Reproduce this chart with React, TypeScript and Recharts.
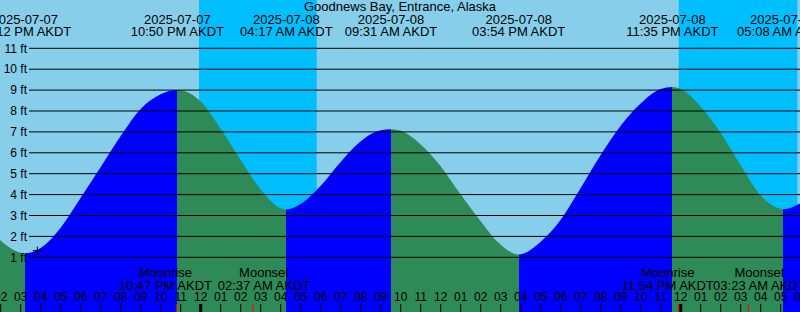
import React from 'react';
import { ComposedChart, Area, XAxis, YAxis, ReferenceArea, ReferenceLine, ReferenceDot } from 'recharts';

// hours counted from 2025-07-07 00:00 AKDT
const hours = [
  13.965, 14, 15, 15.2, 16, 17, 18, 19, 20, 21, 22, 22.833, 23, 24, 25, 26, 27, 28, 28.283,
  29, 30, 31, 32, 33, 33.517, 34, 35, 36, 37, 38, 39, 39.9, 40, 41, 42, 43, 44, 45, 46, 47,
  47.583, 48, 49, 50, 51, 52, 53, 53.133, 53.965,
];
const heights = [
  1.83, 1.8, 1.22, 1.19, 1.45, 2.42, 3.85, 5.32, 6.8, 8.1, 8.8, 9.0, 8.99, 8.45, 7.15, 5.65, 4.25, 3.35, 3.29,
  3.55, 4.42, 5.56, 6.55, 7.08, 7.13, 7.05, 6.4, 5.36, 4.0, 2.73, 1.6, 1.14, 1.15, 1.75, 2.8, 4.32, 5.9, 7.3, 8.36, 9.05,
  9.15, 9.05, 8.2, 6.95, 5.4, 3.96, 3.32, 3.3, 3.57,
];

const extremeTimes = [15.2, 22.833, 28.283, 33.517, 39.9, 47.583, 53.133];
const extremeKinds = ['low', 'high', 'low', 'high', 'low', 'high', 'low'];
const extremeDates = ['2025-07-07', '2025-07-07', '2025-07-08', '2025-07-08', '2025-07-08', '2025-07-08', '2025-07-09'];
const extremeLabels = [
  '03:12 PM AKDT', '10:50 PM AKDT', '04:17 AM AKDT', '09:31 AM AKDT', '03:54 PM AKDT', '11:35 PM AKDT', '05:08 AM AKDT',
];

const sunsets = [23.917, 47.9];
const sunrises = [29.8, 53.833];

const moonTimes = [22.783, 26.617, 47.9, 51.383];
const moonEvents = ['Moonrise', 'Moonset', 'Moonrise', 'Moonset'];
const moonLabels = ['10:47 PM AKDT', '02:37 AM AKDT', '11:54 PM AKDT', '03:23 AM AKDT'];

const levels = [1, 2, 3, 4, 5, 6, 7, 8, 9, 10, 11];
const hourTicks = [
  14, 15, 16, 17, 18, 19, 20, 21, 22, 23, 24, 25, 26, 27, 28, 29, 30, 31, 32, 33, 34,
  35, 36, 37, 38, 39, 40, 41, 42, 43, 44, 45, 46, 47, 48, 49, 50, 51, 52, 53, 54,
];

const title = 'Goodnews Bay, Entrance, Alaska';
const markTime = 15.83;
const markLevel = 1.32;
const gridStartHour = 15.415;

const RISE = '#0000ff';
const FALL = '#2e8b57';
const DAY = '#87ceeb';
const NIGHT = '#00bfff';
const FONT = '"Liberation Sans", Arial, sans-serif';

const data = hours.map((t, i) => ({ t, h: heights[i] }));
const tMin = hours[0];
const tMax = hours[hours.length - 1];

const bounds = [tMin, ...extremeTimes, tMax];
const segColor = (i: number) => {
  if (i < extremeKinds.length) return extremeKinds[i] === 'high' ? RISE : FALL;
  return extremeKinds[extremeKinds.length - 1] === 'low' ? RISE : FALL;
};
const stops: { offset: number; color: string }[] = [];
for (let i = 0; i < bounds.length - 1; i++) {
  const c = segColor(i);
  stops.push({ offset: (bounds[i] - tMin) / (tMax - tMin), color: c });
  stops.push({ offset: (bounds[i + 1] - tMin) / (tMax - tMin), color: c });
}

const hourText = (v: number) => {
  const h = ((v % 24) + 24) % 24;
  const h12 = ((h + 11) % 12) + 1;
  return String(h12).padStart(2, '0');
};

const HourLabel = ({ viewBox, value }: any) => {
  const bottom = viewBox.y + viewBox.height;
  const midnight = value % 24 === 0;
  return (
    <g>
      <line x1={viewBox.x} x2={viewBox.x} y1={bottom - 8} y2={bottom} stroke="#000" strokeWidth={midnight ? 3 : 1} />
      <text x={viewBox.x} y={bottom - 11} textAnchor="middle" fontSize={12} fill="#000">
        {hourText(value)}
      </text>
    </g>
  );
};

const ExtremeLabel = ({ viewBox, date, time }: any) => (
  <g>
    <text x={viewBox.x} y={viewBox.y + 24} textAnchor="middle" fontSize={13} fill="#000">{date}</text>
    <text x={viewBox.x} y={viewBox.y + 36} textAnchor="middle" fontSize={13} fill="#000">{time}</text>
  </g>
);

const MoonLabel = ({ viewBox, event, time }: any) => {
  const bottom = viewBox.y + viewBox.height;
  const shift = event === 'Moonrise' ? -11 : 11;
  return (
    <g>
      <line x1={viewBox.x} x2={viewBox.x} y1={bottom - 8} y2={bottom} stroke="#ff0000" strokeWidth={1} />
      <text x={viewBox.x + shift} y={bottom - 35} textAnchor="middle" fontSize={13} fill="#000">{event}</text>
      <text x={viewBox.x + shift} y={bottom - 22.5} textAnchor="middle" fontSize={13} fill="#000">{time}</text>
    </g>
  );
};

const PlusMark = (props: any) => {
  const { cx, cy } = props;
  return (
    <g>
      <line x1={cx - 4.5} x2={cx + 4.5} y1={cy} y2={cy} stroke="#000" strokeWidth={1} />
      <line x1={cx} x2={cx} y1={cy - 4} y2={cy + 4} stroke="#000" strokeWidth={1} />
    </g>
  );
};

export default function App() {
  return (
    <div
      style={{
        position: 'absolute',
        left: 0,
        top: 0,
        width: 800,
        height: 312,
        background: DAY,
        fontFamily: FONT,
        overflow: 'hidden',
      }}
    >
      <ComposedChart width={800} height={312} data={data} margin={{ top: 0, right: 0, bottom: 0, left: 0 }}>
        <defs>
          <linearGradient id="tideFill" x1="0" y1="0" x2="1" y2="0">
            {stops.map((s, i) => (
              <stop key={i} offset={s.offset} stopColor={s.color} />
            ))}
          </linearGradient>
        </defs>
        <XAxis dataKey="t" type="number" domain={['dataMin', 'dataMax']} hide />
        <YAxis hide type="number" domain={[-1.617, 13.311]} allowDataOverflow />
        {sunsets.map((s, i) => (
          <ReferenceArea key={'n' + i} x1={s} x2={sunrises[i]} fill={NIGHT} fillOpacity={1} stroke="none" />
        ))}
        <Area
          dataKey="h"
          type="monotone"
          stroke="none"
          fill="url(#tideFill)"
          fillOpacity={1}
          baseValue="dataMin"
          dot={false}
          activeDot={false}
          isAnimationActive={false}
        />
        {levels.map((v) => (
          <ReferenceLine
            key={'g' + v}
            segment={[{ x: gridStartHour, y: v }, { x: tMax, y: v }]}
            stroke="#000"
            strokeWidth={1}
            label={{ value: `${v} ft`, position: 'left', offset: 2, fill: '#000', fontSize: 12 }}
          />
        ))}
        {hourTicks.map((t) => (
          <ReferenceLine
            key={'h' + t}
            x={t}
            stroke="none"
            ifOverflow="visible"
            label={(p: any) => <HourLabel {...p} value={t} />}
          />
        ))}
        {extremeTimes.map((t, i) => (
          <ReferenceLine
            key={'e' + i}
            x={t}
            stroke="none"
            label={(p: any) => <ExtremeLabel {...p} date={extremeDates[i]} time={extremeLabels[i]} />}
          />
        ))}
        {moonTimes.map((t, i) => (
          <ReferenceLine
            key={'m' + i}
            x={t}
            stroke="none"
            label={(p: any) => <MoonLabel {...p} event={moonEvents[i]} time={moonLabels[i]} />}
          />
        ))}
        <ReferenceDot x={markTime} y={markLevel} shape={(p: any) => <PlusMark {...p} />} />
      </ComposedChart>
      <svg width={800} height={20} style={{ position: 'absolute', left: 0, top: 0 }}>
        <text x={400} y={11} textAnchor="middle" fontSize={13} fill="#000" fontFamily={FONT}>
          {title}
        </text>
      </svg>
    </div>
  );
}
